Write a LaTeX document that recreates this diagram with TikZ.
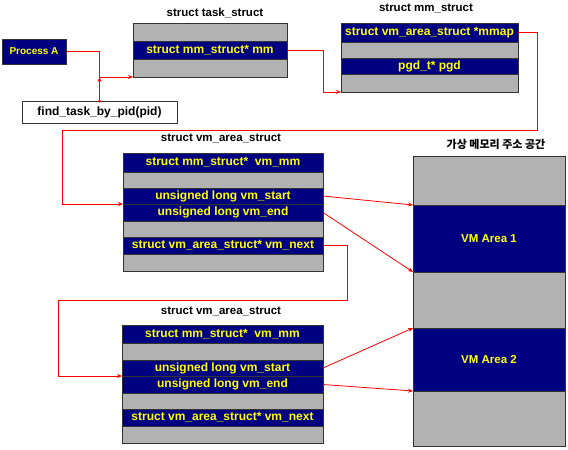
\documentclass[tikz,border=0pt]{standalone}
\usepackage{fontspec}
\setmainfont{Liberation Sans}
\newfontfamily\krfont{Noto Sans CJK KR}
\usetikzlibrary{arrows.meta}
\definecolor{field}{HTML}{000080}
\definecolor{blank}{HTML}{B2B2B2}
\definecolor{label}{HTML}{FFFF00}

\begin{document}
\begin{tikzpicture}[x=1pt,y=-1pt,
		row/.style={anchor=north west,inner sep=0pt,outer sep=0pt,draw=black!80,line width=0.6pt,font=\bfseries\fontsize{12}{14}\selectfont},
		fld/.style={row,fill=field,text=label},
		gap/.style={row,fill=blank},
		title/.style={font=\bfseries\fontsize{11.5}{13}\selectfont},
		link/.style={draw=red,line width=0.8pt,-{Stealth[length=5pt,width=4pt]}}]
		\useasboundingbox (0,0) rectangle (568,450);
		%process and lookup
		\node[fld,minimum width=64,minimum height=25,font=\bfseries\fontsize{10}{12}\selectfont] (pa) at (2,39) {Process A};
		\node[row,fill=white,minimum width=155,minimum height=22] (ft) at (22,101) {find\_task\_by\_pid(pid)};
		\coordinate (jn) at (99.5,77);
		%task struct
		\node[title] (tst) at (215,13) {struct task\_struct};
		\node[gap,minimum width=154,minimum height=18] (ts1) at (133,23) {};
		\node[fld,minimum width=154,minimum height=18] (ts2) at (133,41) {struct mm\_struct* mm};
		\node[gap,minimum width=154,minimum height=18] (ts3) at (133,59) {};
		%mm struct
		\node[title] (mmt) at (426,8) {struct mm\_struct};
		\node[fld,minimum width=177,minimum height=19] (mm1) at (341,23) {struct vm\_area\_struct *mmap};
		\node[gap,minimum width=177,minimum height=16] (mm2) at (341,42) {};
		\node[fld,minimum width=177,minimum height=16] (mm3) at (341,58) {pgd\_t* pgd};
		\node[gap,minimum width=177,minimum height=18] (mm4) at (341,74) {};
		%first vm area struct
		\node[title] (vat) at (221,138) {struct vm\_area\_struct};
		\node[fld,minimum width=200,minimum height=19] (va1) at (123,153) {struct mm\_struct*\ \ vm\_mm};
		\node[gap,minimum width=200,minimum height=16] (va2) at (123,172) {};
		\node[fld,minimum width=200,minimum height=16] (va3) at (123,188) {unsigned long vm\_start};
		\node[fld,minimum width=200,minimum height=17] (va4) at (123,204) {unsigned long vm\_end};
		\node[gap,minimum width=200,minimum height=16] (va5) at (123,221) {};
		\node[fld,minimum width=200,minimum height=17] (va6) at (123,237) {struct vm\_area\_struct* vm\_next};
		\node[gap,minimum width=200,minimum height=17] (va7) at (123,254) {};
		%second vm area struct
		\node[title] (vbt) at (221,311) {struct vm\_area\_struct};
		\node[fld,minimum width=201,minimum height=18] (vb1) at (122,325) {struct mm\_struct*\ \ vm\_mm};
		\node[gap,minimum width=201,minimum height=17] (vb2) at (122,343) {};
		\node[fld,minimum width=201,minimum height=16] (vb3) at (122,360) {unsigned long vm\_start};
		\node[fld,minimum width=201,minimum height=17] (vb4) at (122,376) {unsigned long vm\_end};
		\node[gap,minimum width=201,minimum height=16] (vb5) at (122,393) {};
		\node[fld,minimum width=201,minimum height=17] (vb6) at (122,409) {struct vm\_area\_struct* vm\_next};
		\node[gap,minimum width=201,minimum height=17] (vb7) at (122,426) {};
		%virtual address space
		\node[title,font=\krfont\bfseries\fontsize{11}{13}\selectfont] (vmt) at (496,144) {가상 메모리 주소 공간};
		\node[gap,minimum width=152,minimum height=49] (vm1) at (413,156) {};
		\node[fld,minimum width=152,minimum height=67,font=\bfseries\fontsize{11.5}{13}\selectfont] (vm2) at (413,205) {VM Area 1};
		\node[gap,minimum width=152,minimum height=56] (vm3) at (413,272) {};
		\node[fld,minimum width=152,minimum height=63,font=\bfseries\fontsize{11.5}{13}\selectfont] (vm4) at (413,328) {VM Area 2};
		\node[gap,minimum width=152,minimum height=55] (vm5) at (413,391) {};
		%corners
		\coordinate (c1) at (537,130);
		\coordinate (c2) at (62,130);
		\coordinate (c3) at (347,300);
		\coordinate (c4) at (58,300);
		%links
		\draw[link] (pa.east) -| (jn) -- (ts3.south west);
		\draw[link] (ft.north) -- (jn);
		\fill[red] (ft.north) circle (1.5);
		\draw[link] (ts2.east) -- ++(36,0) |- (mm4.south west);
		\draw[link] (mm1.east) -| (c1) -- (c2) |- (va4.north west);
		\draw[link] (va6.east) -| (c3) -- (c4) |- (vb4.north west);
		\draw[link] (va3.east) -- (vm2.north west);
		\draw[link] (va4.east) -- (vm2.south west);
		\draw[link] (vb3.east) -- (vm4.north west);
		\draw[link] (vb4.east) -- (vm4.south west);
\end{tikzpicture}
\end{document}
